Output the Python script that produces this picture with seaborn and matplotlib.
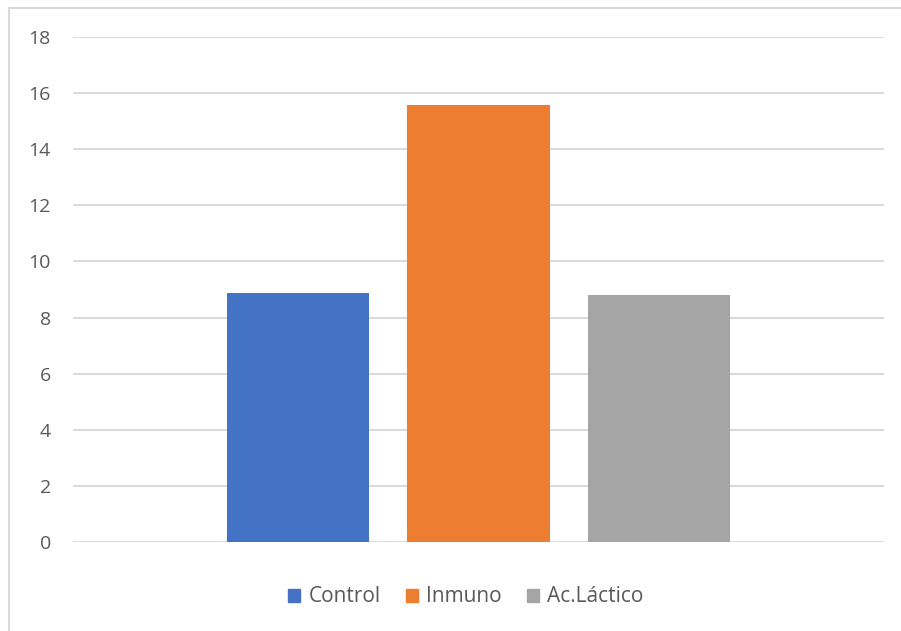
import matplotlib
matplotlib.use("Agg")
import matplotlib.pyplot as plt
import seaborn as sns
import pandas as pd
from matplotlib.patches import Rectangle

categories = ["Control", "Inmuno", "Ac.Láctico"]
values = [8.86, 15.57, 8.79]
colors = ["#4472C4", "#ED7D31", "#A5A5A5"]
yticks = [0, 2, 4, 6, 8, 10, 12, 14, 16, 18]

sns.set_theme(style="white")
plt.rcParams['font.family'] = ['Open Sans', 'DejaVu Sans']

df = pd.DataFrame({"cat": categories, "val": values})

fig = plt.figure(figsize=(9.01, 6.31), dpi=100)
ax = fig.add_axes([73/901, 1-542/631, (884-73)/901, (542-37)/631])

sns.barplot(data=df, x="cat", y="val", hue="cat", palette=colors,
            width=0.79, ax=ax, legend=False, saturation=1, linewidth=0)

ax.set_xlim(-1.25, 3.25)
ax.set_ylim(0, 18)
ax.set_yticks(yticks)
ax.set_yticklabels([str(t) for t in yticks], fontsize=14, color="#595959")
ax.set_xticks([])
ax.set_xlabel("")
ax.set_ylabel("")
ax.yaxis.grid(True, color="#D9D9D9", linewidth=1.4)
ax.set_axisbelow(True)
for s in ax.spines.values():
    s.set_visible(False)
ax.tick_params(axis="y", length=0, pad=16)

handles = [Rectangle((0, 0), 1, 1, color=c) for c in colors]
fig.legend(handles, categories, loc="center", bbox_to_anchor=(466/901, 1-597/631),
           ncol=3, frameon=False, fontsize=15, handlelength=0.58, handleheight=0.58,
           handletextpad=0.4, columnspacing=1.2, labelcolor="#595959")

border = Rectangle((9/901, -0.1), 1.2, 1-8/631+0.1, transform=fig.transFigure,
                   fill=False, edgecolor="#D9D9D9", linewidth=1.5)
fig.patches.append(border)

fig.savefig("out.png", dpi=100)
